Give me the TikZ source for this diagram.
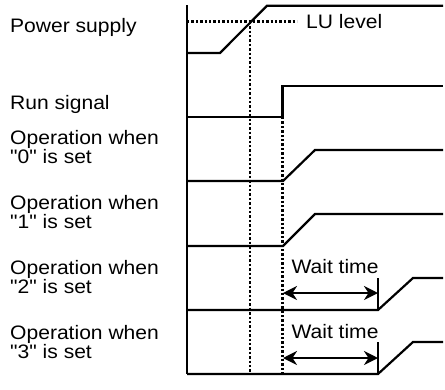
\documentclass[tikz,border=0pt]{standalone}
\usepackage{fontspec}
\setmainfont{Liberation Sans}[FakeStretch=1.08, Ligatures=TeXOff]
\usepackage{tikz}
\usetikzlibrary{arrows.meta, positioning, calc}

\begin{document}
\begin{tikzpicture}[x=1pt, y=-1pt,
        label/.style={anchor=north west, inner sep=0pt, align=left, font=\fontsize{19.5}{19}\selectfont},
        wave/.style={line width=2.2pt, line join=miter},
        guide/.style={line width=2.6pt, dash pattern=on 2.4pt off 2pt},
        waitarrow/.style={{Stealth[length=14pt, width=14pt]}-{Stealth[length=14pt, width=14pt]}, line width=2.2pt}
    ]
        \useasboundingbox (0,0) rectangle (445,389);

        % Signal names
        \node[label] (pwr) at (10,18) {Power supply};
        \node[label] (run) at (10,95) {Run signal};
        \node[label] (op0) at (10,130) {Operation when\\"0" is set};
        \node[label] (op1) at (10,195) {Operation when\\"1" is set};
        \node[label] (op2) at (10,260) {Operation when\\"2" is set};
        \node[label] (op3) at (10,325) {Operation when\\"3" is set};

        % Axis
        \draw[wave] (187,5) -- (187,374);

        % LU level
        \draw[guide] (187,21.7) -- (297,21.7);
        \node[anchor=west, inner sep=0pt, font=\fontsize{19.5}{19}\selectfont] (lu) at (306,21.7) {LU level};
        \draw[guide] (250,21.7) -- (250,374);

        % Power supply
        \draw[wave] (187,53) -- (220,53) -- (267,5.7) -- (443,5.7);

        % Run signal
        \draw[wave] (187,117) -- (282.5,117) -- (282.5,86) -- (443,86);
        \draw[guide] (282.5,117) -- (282.5,374);

        % Operation 0 and 1
        \draw[wave] (187,181) -- (283,181) -- (315,150) -- (443,150);
        \draw[wave] (187,246) -- (283,246) -- (315,214) -- (443,214);

        % Operation 2
        \draw[wave] (187,310) -- (378,310) -- (413,278) -- (443,278);
        \draw[wave] (378,278) -- (378,310);
        \coordinate (s2) at (283,293);
        \coordinate (e2) at (378,293);
        \draw[waitarrow] (s2) -- (e2);
        \node[font=\fontsize{19.5}{19}\selectfont, inner sep=0pt] (wait2) at (335,267) {Wait time};

        % Operation 3
        \draw[wave] (187,374) -- (378,374) -- (413,342) -- (443,342);
        \draw[wave] (378,342) -- (378,374);
        \coordinate (s3) at (283,358);
        \coordinate (e3) at (378,358);
        \draw[waitarrow] (s3) -- (e3);
        \node[font=\fontsize{19.5}{19}\selectfont, inner sep=0pt] (wait3) at (335,332) {Wait time};

    \end{tikzpicture}
\end{document}
